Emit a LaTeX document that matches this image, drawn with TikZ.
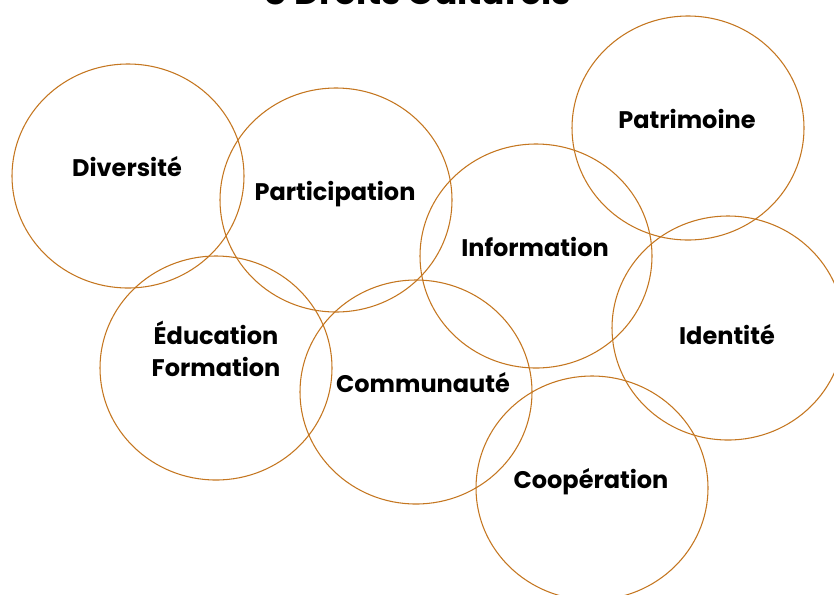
\documentclass[tikz,border=0pt]{standalone}
\usepackage{fontspec}
\setmainfont{Poppins}
\usetikzlibrary{shapes.geometric}
\definecolor{ringbrown}{RGB}{196,118,32}
\tikzset{
  ring/.style = {ellipse, draw=ringbrown, line width=0.8pt,
    minimum width=174pt, minimum height=168pt, inner sep=0pt},
  word/.style = {font=\bfseries\fontsize{18}{24}\selectfont, align=center, anchor=base, inner sep=0pt},
}
\begin{document}
\begin{tikzpicture}[x=0.75pt, y=-0.75pt]
\useasboundingbox (0,0) rectangle (834,594);
\clip (0,0) rectangle (834,594);
% title, cut by the top edge
\node[word, font=\bfseries\fontsize{26}{30}\selectfont] (title) at (418,4) {8 Droits Culturels};
% circles
\node[ring] (div) at (128,176) {};
\node[ring] (par) at (336,200) {};
\node[ring] (pat) at (688,128) {};
\node[ring] (inf) at (536,256) {};
\node[ring] (idn) at (728,328) {};
\node[ring] (edu) at (216,368) {};
\node[ring] (com) at (416,392) {};
\node[ring] (coo) at (592,488) {};
% words
\node[word] (tdiv) at (127,176) {Diversité};
\node[word] (tpar) at (335,200) {Participation};
\node[word] (tpat) at (687,128) {Patrimoine};
\node[word] (tinf) at (535,256) {Information};
\node[word] (tidn) at (727,344) {Identité};
\node[word] (tedu) at (216,376) {Éducation\\Formation};
\node[word] (tcom) at (423,392) {Communauté};
\node[word] (tcoo) at (591,488) {Coopération};
\end{tikzpicture}
\end{document}
